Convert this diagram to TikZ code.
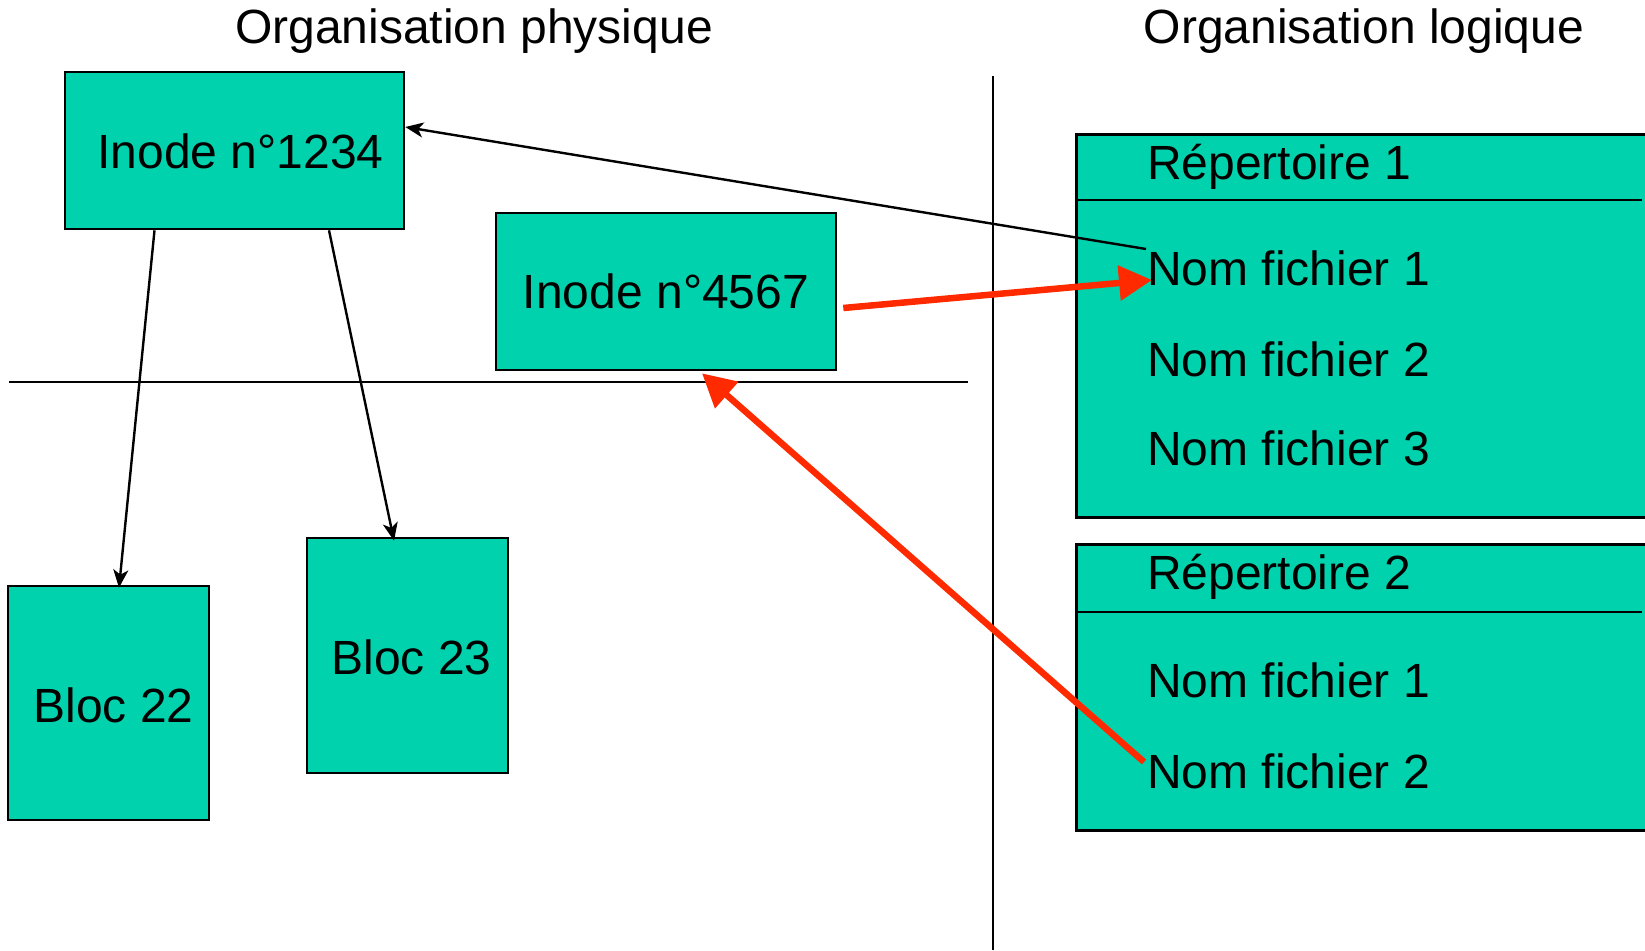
\documentclass[tikz,border=0pt]{standalone}
\usepackage{fontspec}
\setmainfont{Liberation Sans}
\usetikzlibrary{arrows.meta}
\definecolor{boxfill}{HTML}{00D2AD}
\definecolor{linkred}{HTML}{FF2A00}
\tikzset{
  box/.style={draw=black, line width=2.6pt, fill=boxfill, inner sep=0pt},
  lbl/.style={inner sep=0pt, font=\fontsize{48}{57}\selectfont},
  rule/.style={line width=2.4pt},
  thinlink/.style={line width=2.4pt, -{Stealth[length=18pt,width=15pt,inset=5pt]}},
  redlink/.style={draw=linkred, line width=6.5pt, -{Triangle[length=33pt,width=34pt]}}
}
\begin{document}
\begin{tikzpicture}[x=1pt,y=-1pt]
\useasboundingbox (0,0) rectangle (1645,950);
\clip (0,0) rectangle (1645,950);

% column headings
\node[lbl, anchor=base] (headphys) at (474,44) {Organisation physique};
\node[lbl, anchor=base] (headlog) at (1364,44) {Organisation logique};

% separators
\draw[rule] (9,382) -- (968,382);
\draw[rule] (993,76) -- (993,950);

% physical side: boxes and their captions
\node[box, minimum width=339pt, minimum height=157pt] (i1234) at (234.5,150.5) {};
\node[box, minimum width=340pt, minimum height=157pt] (i4567) at (666,291.5) {};
\node[box, minimum width=201pt, minimum height=234pt] (b22) at (108.5,703) {};
\node[box, minimum width=201pt, minimum height=235pt] (b23) at (407.5,655.5) {};
\node[lbl] (i1234t) at ([xshift=6pt,yshift=-1pt]i1234.center) {Inode n°1234};
\node[lbl] (i4567t) at (i4567.center) {Inode n°4567};
\node[lbl] (b22t) at ([xshift=5pt,yshift=-2pt]b22.center) {Bloc 22};
\node[lbl] (b23t) at ([xshift=4pt,yshift=-2pt]b23.center) {Bloc 23};

% logical side: directory 1
\node[box, anchor=north west, minimum width=640pt, minimum height=383pt] (rep1) at (1075,133) {};
\draw[rule] (1075,200) -- (1642,200);
\node[lbl, anchor=base west] (rep1t) at (1147,179) {Répertoire 1};
\node[lbl, anchor=base west] (r1f1) at (1147,285) {Nom fichier 1};
\node[lbl, anchor=base west] (r1f2) at (1147,376) {Nom fichier 2};
\node[lbl, anchor=base west] (r1f3) at (1147,465) {Nom fichier 3};

% logical side: directory 2
\node[box, anchor=north west, minimum width=640pt, minimum height=286pt] (rep2) at (1075,543) {};
\draw[rule] (1075,612) -- (1642,612);
\node[lbl, anchor=base west] (rep2t) at (1147,589) {Répertoire 2};
\node[lbl, anchor=base west] (r2f1) at (1147,697) {Nom fichier 1};
\node[lbl, anchor=base west] (r2f2) at (1147,788) {Nom fichier 2};

% inode to data blocks
\draw[thinlink] ([xshift=-80pt]i1234.south) -- ([xshift=10.5pt,yshift=-3pt]b22.north);
\draw[thinlink] ([xshift=94.5pt]i1234.south) -- ([xshift=-13.5pt,yshift=-4pt]b23.north);

% directory entries to inodes
\draw[thinlink] ([xshift=-1pt,yshift=1pt]r1f1.north west) -- ([yshift=23.5pt]i1234.east);
\draw[redlink] ([xshift=6pt,yshift=-16.5pt]i4567.east) -- ([xshift=5pt,yshift=5pt]r1f1.base west);
\draw[redlink] ([xshift=-3pt,yshift=26pt]r2f2.base west) -- ([xshift=36pt,yshift=-2pt]i4567.south);
\end{tikzpicture}
\end{document}
